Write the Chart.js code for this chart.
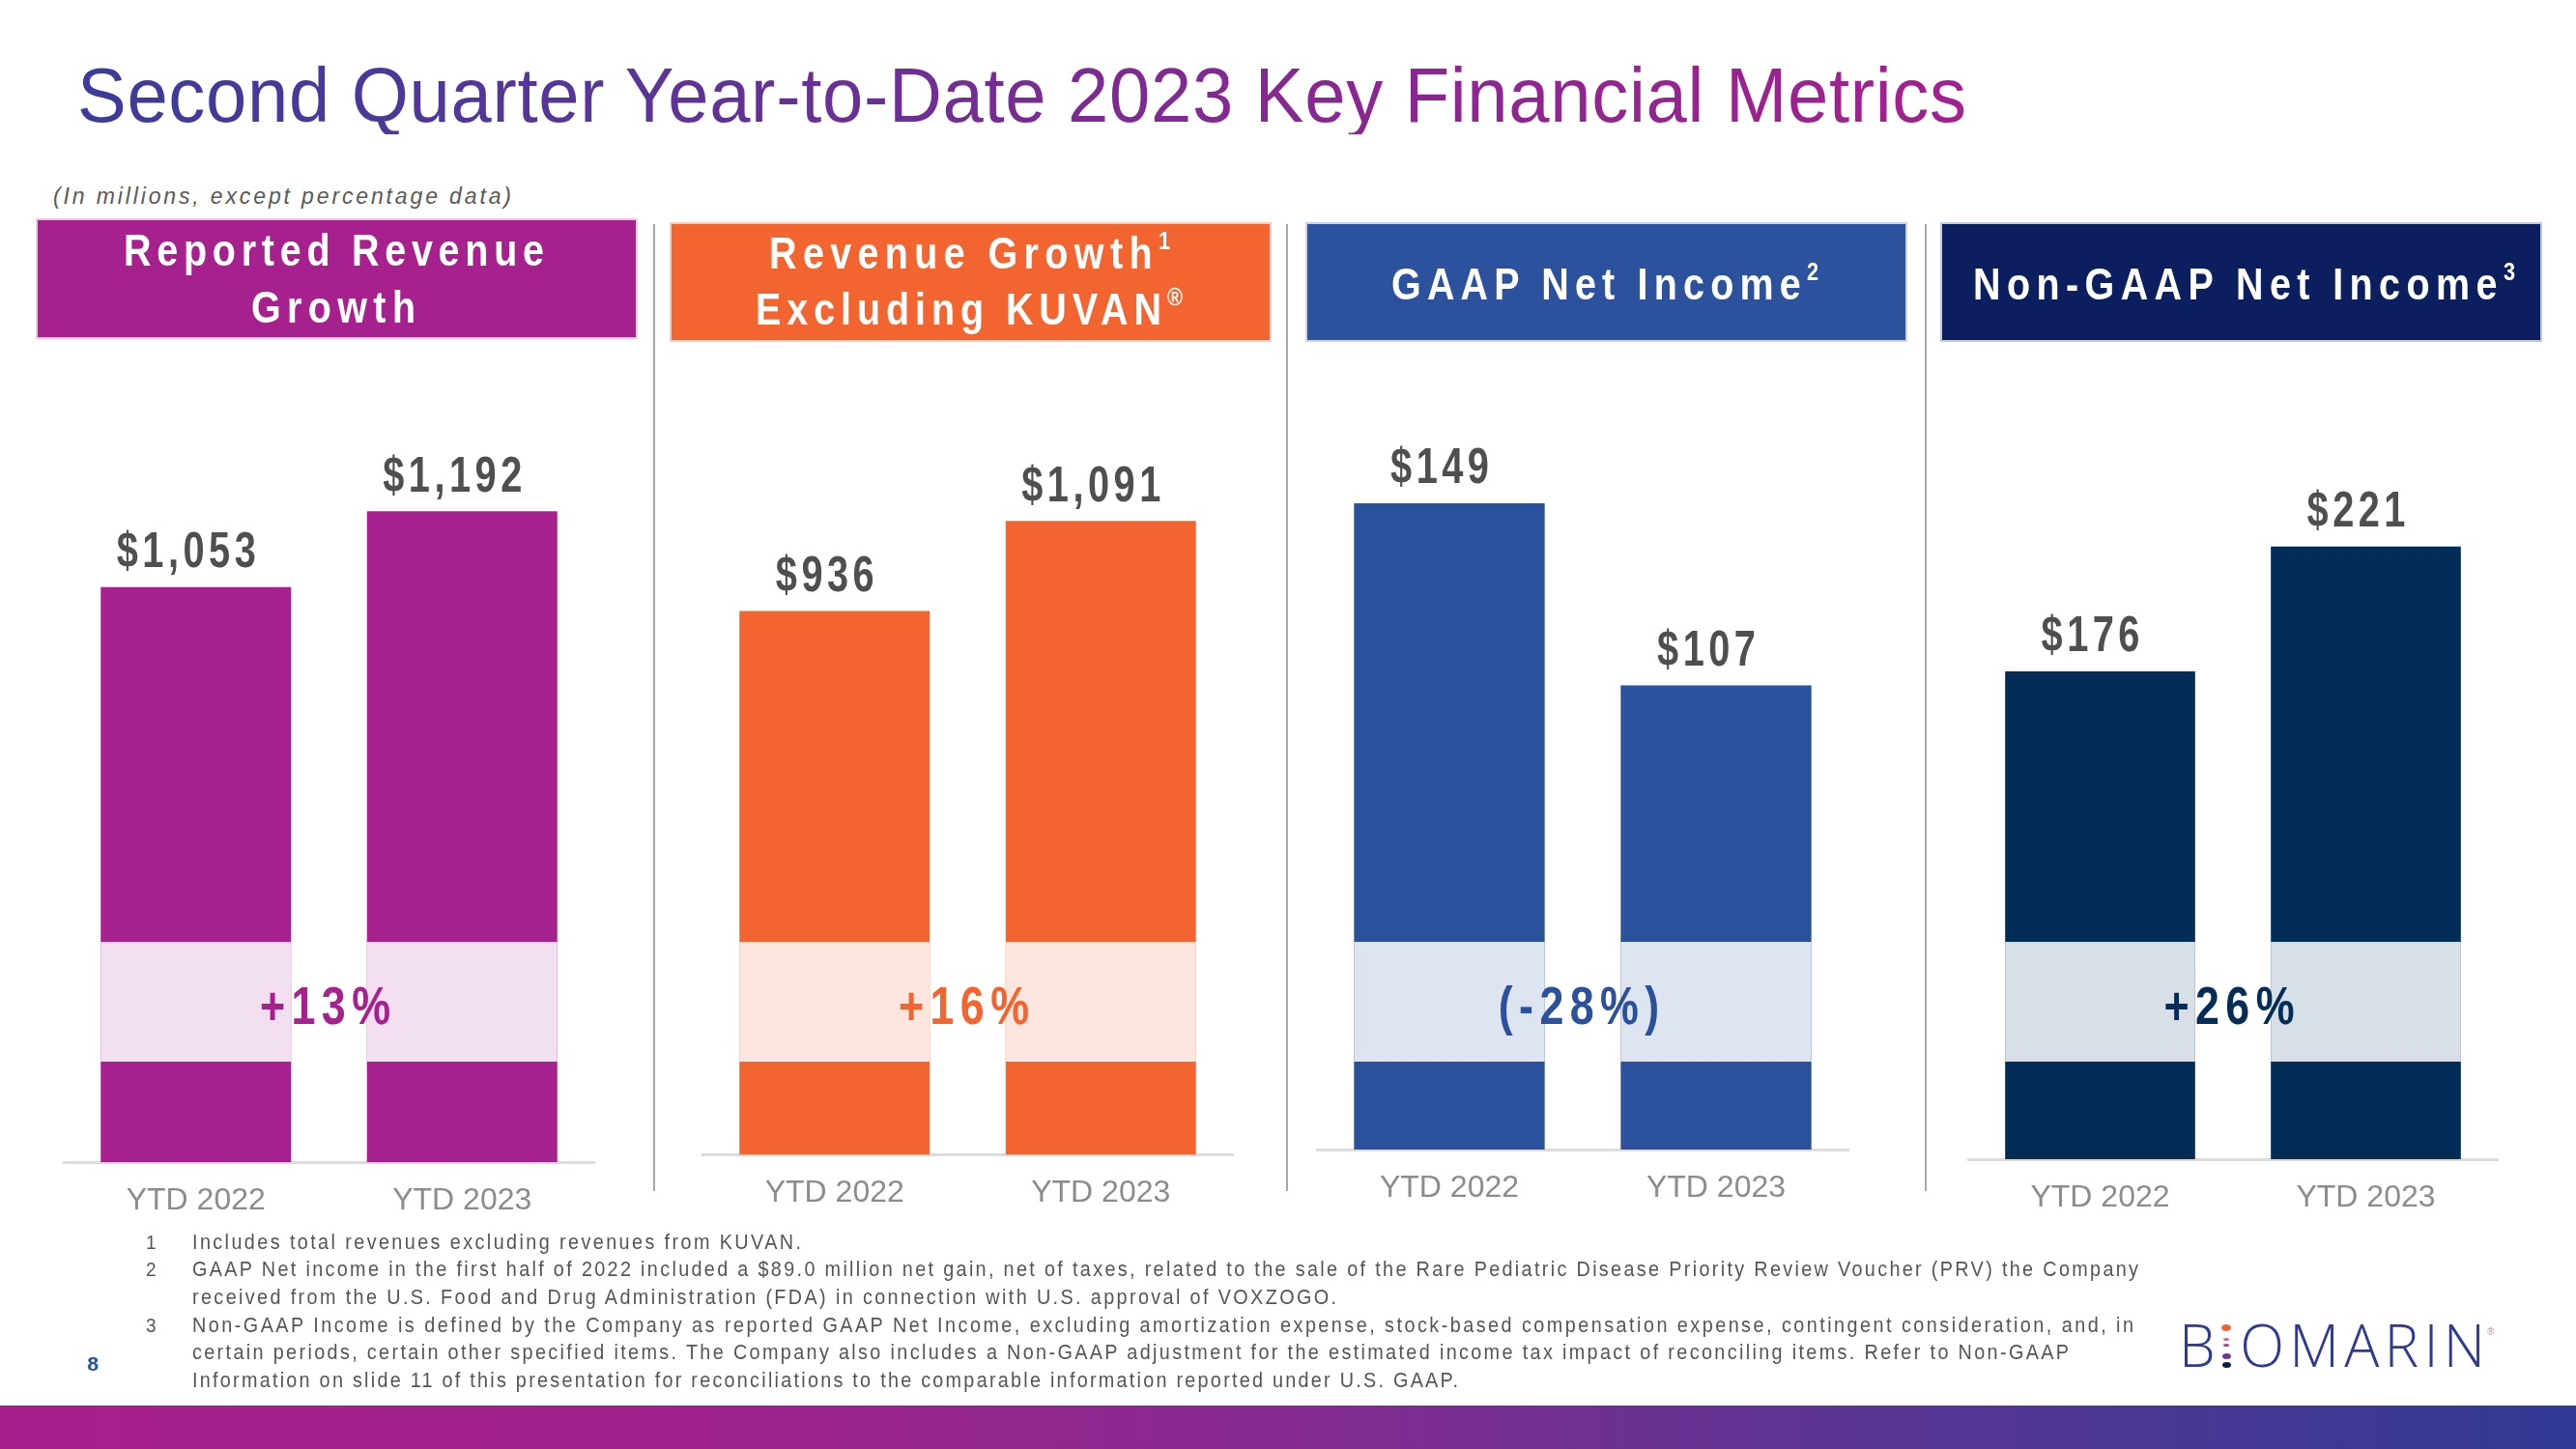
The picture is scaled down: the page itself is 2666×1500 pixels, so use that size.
<!DOCTYPE html>
<html>
<head>
<meta charset="utf-8">
<script src="https://cdn.jsdelivr.net/npm/chart.js@4.4.0/dist/chart.umd.min.js"></script>
<style>
html,body{margin:0;padding:0;background:#fff;}
#page{position:relative;width:2666px;height:1500px;overflow:hidden;background:#fff;font-family:"Liberation Sans",Arial,sans-serif;}
.t{position:absolute;white-space:nowrap;line-height:1;transform-origin:left top;}
canvas{position:absolute;}
.sup{font-size:.55em;vertical-align:.78em;}
</style>
</head>
<body>
<div id="page"></div>
<script>
// ---------------- DATA ----------------
const categories = ['YTD 2022', 'YTD 2023'];
const reportedRevenue = [1053, 1192];
const revenueExKuvan = [936, 1091];
const gaapNetIncome = [149, 107];
const nonGaapNetIncome = [176, 221];
const growthLabels = ['+13%', '+16%', '(-28%)', '+26%'];
const panelTitles = [
  ['Reported Revenue', 'Growth'],
  ['Revenue Growth<span class="sup">1</span>', 'Excluding KUVAN<span class="sup">®</span>'],
  ['GAAP Net Income<span class="sup">2</span>'],
  ['Non-GAAP Net Income<span class="sup">3</span>']
];
const titleText = 'Second Quarter Year-to-Date 2023 Key Financial Metrics';
const subtitleText = '(In millions, except percentage data)';
const footnoteNumbers = ['1', '2', '', '3', '', ''];
const footnoteLines = [
  'Includes total revenues excluding revenues from KUVAN.',
  'GAAP Net income in the first half of 2022 included a $89.0 million net gain, net of taxes, related to the sale of the Rare Pediatric Disease Priority Review Voucher (PRV) the Company',
  'received from the U.S. Food and Drug Administration (FDA) in connection with U.S. approval of VOXZOGO.',
  'Non-GAAP Income is defined by the Company as reported GAAP Net Income, excluding amortization expense, stock-based compensation expense, contingent consideration, and, in',
  'certain periods, certain other specified items. The Company also includes a Non-GAAP adjustment for the estimated income tax impact of reconciling items. Refer to Non-GAAP',
  'Information on slide 11 of this presentation for reconciliations to the comparable information reported under U.S. GAAP.'
];
const pageNumber = '8';
const seriesList = [reportedRevenue, revenueExKuvan, gaapNetIncome, nonGaapNetIncome];

// ---------------- LAYOUT / STYLE ----------------
const page = document.getElementById('page');
const FONT = '"Liberation Sans", Arial, Helvetica, sans-serif';

function place(spec) {
  const d = document.createElement('div');
  d.className = 't';
  d.innerHTML = spec.html;
  d.style.fontSize = spec.size + 'px';
  d.style.fontWeight = spec.weight || 'normal';
  d.style.fontStyle = spec.italic ? 'italic' : 'normal';
  d.style.fontFamily = spec.family || FONT;
  if (spec.color) d.style.color = spec.color;
  if (spec.gradient) {
    d.style.backgroundImage = spec.gradient;
    d.style.webkitBackgroundClip = 'text';
    d.style.backgroundClip = 'text';
    d.style.color = 'transparent';
  }
  const mk = document.createElement('span');
  mk.style.cssText = 'display:inline-block;width:0;height:0;vertical-align:baseline;';
  d.appendChild(mk);
  page.appendChild(d);
  const n = d.textContent.length;
  const r0 = d.getBoundingClientRect();
  const w = r0.width;
  const baseOff = mk.getBoundingClientRect().bottom - r0.top;
  let sx = spec.sx || 1;
  let visW = w * sx;
  if (spec.width) {
    if (w * sx > spec.width) {
      sx = spec.width / w;
    } else if (n > 1) {
      d.style.letterSpacing = ((spec.width - w * sx) / (n - 1) / sx) + 'px';
    }
    visW = spec.width;
  }
  if (sx !== 1) d.style.transform = 'scaleX(' + sx + ')';
  let left = spec.left;
  if (spec.cx !== undefined) left = spec.cx - visW / 2;
  d.style.left = left + 'px';
  d.style.top = (spec.baseline - baseOff) + 'px';
  return d;
}

function addDiv(css) {
  const d = document.createElement('div');
  d.style.cssText = 'position:absolute;' + css;
  page.appendChild(d);
  return d;
}

// Title + subtitle
place({html: titleText, left: 80, baseline: 126, size: 80, width: 1955, sx: 0.95,
  gradient: 'linear-gradient(90deg,#3A3C9C 0%,#5B3497 30%,#7E2A92 55%,#A3208F 100%)'});
place({html: subtitleText, left: 55, baseline: 211, size: 23, italic: true, color: '#595959', width: 474});

// Panels
const panels = [
  {box: [39, 228, 619, 121], head: '#A6218E', edge: '#E6C8E1', bar: '#A6218E', band: '#F2DFEF', pct: '#A6218E',
   L: 65, R: 616, B: 1203, k: 0.5652,
   lines: [{cx: 345, baseline: 275, width: 435}, {cx: 345, baseline: 334, width: 170}]},
  {box: [695, 232, 619, 120], head: '#F26531', edge: '#F7CDBB', bar: '#F26531', band: '#FCE6DE', pct: '#F26531',
   L: 726, R: 1277, B: 1195, k: 0.601,
   lines: [{cx: 1003, baseline: 278, width: 415}, {cx: 1003, baseline: 336, width: 442}]},
  {box: [1353, 232, 619, 120], head: '#2C519D', edge: '#C9D3E6', bar: '#2B519D', band: '#DEE4F0', pct: '#2B519D',
   L: 1362, R: 1914, B: 1190, k: 4.49,
   lines: [{cx: 1661, baseline: 310, width: 442}]},
  {box: [2010, 232, 619, 120], head: '#0B1F5E', edge: '#C5CAD6', bar: '#032D57', band: '#D9DFE6', pct: '#032D57',
   L: 2036, R: 2586, B: 1200, k: 2.87,
   lines: [{cx: 2322, baseline: 310, width: 561}]}
];

panels.forEach((p, i) => {
  const [x, y, w, h] = p.box;
  addDiv(`left:${x}px;top:${y}px;width:${w}px;height:${h}px;background:${p.head};box-shadow:0 0 0 2px ${p.edge};`);
  p.lines.forEach((ln, j) => {
    place({html: panelTitles[i][j], cx: ln.cx, baseline: ln.baseline, size: 47, sx: 0.84, weight: 'bold', color: '#FFFFFF', width: ln.width});
  });
});

// Separators
[676, 1331, 1992].forEach(x => addDiv(`left:${x}px;top:232px;width:2px;height:1001px;background:#A8A8A8;`));

// Footnotes
const fnBase = [1293, 1321, 1350, 1379, 1407, 1436];
const fnWidths = [630, 2014, 1184, 2009, 1942, 1310];
footnoteLines.forEach((txt, i) => {
  if (footnoteNumbers[i]) place({html: footnoteNumbers[i], cx: 156, baseline: fnBase[i], size: 21, sx: 0.9, color: '#555555'});
  place({html: txt, left: 199, baseline: fnBase[i], size: 22, sx: 0.9, color: '#555555', width: fnWidths[i]});
});
place({html: pageNumber, cx: 96, baseline: 1419, size: 21, weight: 'bold', color: '#2B4F9C'});

// Logo
place({html: 'B<span id="logoI" style="color:transparent">I</span>OMARIN', left: 2255, baseline: 1415, size: 60,
  family: '"Open Sans", "Liberation Sans", sans-serif', weight: '300', color: '#2E3A93', width: 317});
place({html: '®', left: 2574, baseline: 1382, size: 10, color: '#A0A0A0'});
(function () {
  const r = document.getElementById('logoI').getBoundingClientRect();
  const cx = (r.left + r.right) / 2 - 4;
  const dots = [[1371, 7, 10, '#F26531'], [1385, 3, 6, '#E0609A'], [1391, 3, 6, '#C2308F'], [1401, 6, 9, '#6A3A9B'], [1410, 6, 9, '#0B1F3E']];
  dots.forEach(([y, h, w, c]) => addDiv(`left:${cx - w / 2}px;top:${y}px;width:${w}px;height:${h}px;border-radius:50%;background:${c};`));
})();

// Bottom gradient bar
addDiv('left:0;top:1455px;width:2666px;height:45px;background:linear-gradient(90deg,#A81F8C 0%,#9D228D 30%,#852A90 50%,#5A3593 72%,#313A94 100%);');

// ---------------- CHARTS ----------------
function drawSpaced(ctx, text, cx, baseline, font, sx, sp, color) {
  ctx.save();
  ctx.font = font;
  ctx.fillStyle = color;
  ctx.textBaseline = 'alphabetic';
  ctx.textAlign = 'left';
  const chars = [...text];
  const ws = chars.map(c => ctx.measureText(c).width * sx);
  const total = ws.reduce((a, b) => a + b, 0) + sp * (chars.length - 1);
  let x = cx - total / 2;
  chars.forEach((c, i) => {
    ctx.save();
    ctx.translate(x, baseline);
    ctx.scale(sx, 1);
    ctx.fillText(c, 0, 0);
    ctx.restore();
    x += ws[i] + sp;
  });
  ctx.restore();
}

const decor = {
  id: 'decor',
  afterDatasetsDraw(chart, args, o) {
    const ctx = chart.ctx;
    const meta = chart.getDatasetMeta(0);
    const vals = chart.data.datasets[0].data;
    const bandTop = o.bandTop - o.canvasTop, bandBot = o.bandBottom - o.canvasTop;
    const xs = [];
    meta.data.forEach((bar, i) => {
      const p = bar.getProps(['x', 'y', 'width'], true);
      xs.push(p.x);
      ctx.save();
      ctx.fillStyle = o.bandColor;
      ctx.fillRect(p.x - p.width / 2, bandTop, p.width, bandBot - bandTop);
      ctx.restore();
      drawSpaced(ctx, '$' + vals[i].toLocaleString('en-US'), p.x - 10, p.y - 20.5,
        'bold 51px ' + FONT, 0.78, 4.5, '#4F4F4F');
    });
    const mid = (xs[0] + xs[1]) / 2;
    drawSpaced(ctx, o.pctText, mid - 4, o.pctCenter - o.canvasTop + 20, 'bold 56px ' + FONT, 0.8, 6.4, o.pctColor);
  }
};

const CANVAS_TOP = 400;
const AXIS_H = 80;
panels.forEach((p, i) => {
  const c = document.createElement('canvas');
  const w = p.R - p.L;
  const h = (p.B - CANVAS_TOP) + AXIS_H;
  c.width = w; c.height = h;
  c.style.left = p.L + 'px'; c.style.top = CANVAS_TOP + 'px';
  c.style.width = w + 'px'; c.style.height = h + 'px';
  page.appendChild(c);
  const yMax = (p.B - CANVAS_TOP) / p.k;
  new Chart(c, {
    type: 'bar',
    data: {
      labels: categories,
      datasets: [{data: seriesList[i], backgroundColor: p.bar, borderWidth: 0,
        barPercentage: 0.715, categoryPercentage: 1}]
    },
    options: {
      responsive: false, animation: false, devicePixelRatio: 1,
      layout: {padding: 0},
      events: [],
      plugins: {
        legend: {display: false}, tooltip: {enabled: false},
        decor: {bandTop: 975, bandBottom: 1099, canvasTop: CANVAS_TOP, bandColor: p.band,
          pctText: growthLabels[i], pctColor: p.pct, pctCenter: 1040}
      },
      scales: {
        x: {
          grid: {display: true, drawOnChartArea: false, drawTicks: false},
          border: {display: true, color: '#DCDCDC', width: 3},
          ticks: {color: '#8C8C8C', font: {family: FONT, size: 32}, padding: 21, maxRotation: 0, autoSkip: false},
          afterFit: s => { s.height = AXIS_H; }
        },
        y: {display: false, min: 0, max: yMax}
      }
    },
    plugins: [decor]
  });
});
</script>
</body>
</html>
